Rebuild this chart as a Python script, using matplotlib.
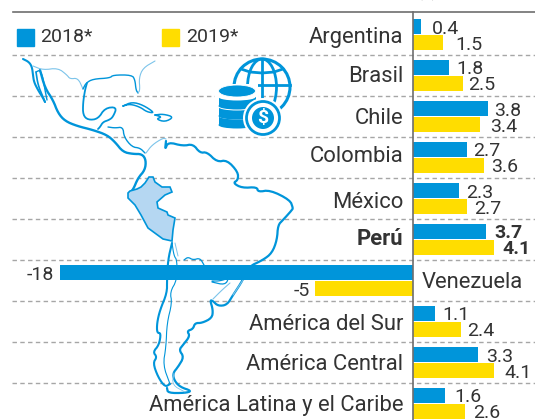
import matplotlib
matplotlib.use("Agg")
import matplotlib.pyplot as plt
import numpy as np
from matplotlib.patches import Circle, Ellipse, Polygon, Rectangle
from matplotlib.transforms import Affine2D

plt.rcParams['font.family'] = ['Roboto', 'DejaVu Sans']

# data
paises = ['Argentina', 'Brasil', 'Chile', 'Colombia', 'México', 'Perú', 'Venezuela',
          'América del Sur', 'América Central', 'América Latina y el Caribe']
v2018 = [0.4, 1.8, 3.8, 2.7, 2.3, 3.7, -18, 1.1, 3.3, 1.6]
v2019 = [1.5, 2.5, 3.4, 3.6, 2.7, 4.1, -5, 2.4, 4.1, 2.6]

# gap between bar end and value label, in px
pad2018 = [11, 7, 6, 7, 7, 8, 6, 7, 8, 9]
pad2019 = [12, 6, 10, 7, 8, 8, 5, 6, 10, 9]
# labels are not quite centred on their rows in the original, px up (+) or down (-)
nudge = [0, 1, 0, 3, -2, 3, 1, 0, 0, 0]

AZUL = '#0095DA'
AMARILLO = '#FFDD00'
CELESTE = '#B5D7F2'
TEXTO = '#333333'
W, H = 535, 420
X0 = 413.5
PX_UNIT = 19.65
ROW = 41.0
Y0 = 34.5
FS_LABEL = 15.8
FS_NUM = 14

fig = plt.figure(figsize=(W / 100, H / 100), dpi=100)
ax = fig.add_axes([0, 0, 1, 1])
ax.axis('off')
# pixel coordinates (origin top left), only for the map, icon and legend
px = Affine2D().scale(1, -1).translate(0, H)

y = np.arange(len(paises))
ax.barh(y - 8 / ROW, v2018, height=15 / ROW, color=AZUL, zorder=5)
ax.barh(y + 8 / ROW, v2019, height=15 / ROW, color=AMARILLO, zorder=5)
ax.set_xlim(-X0 / PX_UNIT, (W - X0) / PX_UNIT)
ax.set_ylim((H - Y0) / ROW, -Y0 / ROW)

# rules
for i in range(len(paises) - 1):
    ax.axhline(i + 0.5, xmin=12 / W, color='#A6A6A6', lw=1.0, dashes=(3.2, 2.4), zorder=1)
ax.plot([13, W], [12, 12], color='#6E6E6E', lw=1.2, transform=px, zorder=6)
ax.plot([413, 413], [12, H], color='#6E6E6E', lw=1.2, transform=px, zorder=6)

# labels
for i, p in enumerate(paises):
    peso = 'bold' if p == 'Perú' else 'normal'
    dy_txt = nudge[i] * 0.72
    if p == 'Venezuela':
        ax.annotate(p, (0, i), xytext=(6, dy_txt), textcoords='offset points', ha='left', va='center_baseline',
                    fontsize=FS_LABEL, color=TEXTO, zorder=7)
    else:
        ax.annotate(p, (0, i), xytext=(-7.5, dy_txt), textcoords='offset points', ha='right', va='center_baseline',
                    fontsize=FS_LABEL, color=TEXTO, fontweight=peso, zorder=7)
    for v, pad, dy in ((v2018[i], pad2018[i], -8), (v2019[i], pad2019[i], 8)):
        txt = ('%.1f' % v) if v > 0 else ('%d' % v)
        sg = 1 if v > 0 else -1
        ax.annotate(txt, (v, i + dy / ROW), xytext=(sg * pad * 0.72, 0), textcoords='offset points',
                    ha='left' if v > 0 else 'right', va='center_baseline', fontsize=FS_NUM, color=TEXTO,
                    fontweight=peso, zorder=7)

ax.text(427, -6.5, '(%)', transform=px, ha='center', va='center', fontsize=10, color=TEXTO)

# legend
ax.add_patch(Rectangle((17, 29), 17, 17, color=AZUL, transform=px))
ax.add_patch(Rectangle((162, 29), 17, 17, color=AMARILLO, transform=px))
ax.text(40, 37, '2018*', transform=px, va='center', fontsize=FS_NUM, color=TEXTO)
ax.text(186, 37, '2019*', transform=px, va='center', fontsize=FS_NUM, color=TEXTO)


def suave(puntos, n=2):
    # corner cutting, ends stay put
    p = np.array(puntos, dtype=float)
    for _ in range(n):
        q = np.empty((2 * len(p), 2))
        q[0::2] = 0.75 * p + 0.25 * np.roll(p, -1, axis=0)
        q[1::2] = 0.25 * p + 0.75 * np.roll(p, -1, axis=0)
        p = np.vstack([p[0], q[:-2], p[-1]])
    return p


def trazo(puntos, lw=1.2, color=AZUL):
    p = suave(puntos)
    ax.plot(p[:, 0], p[:, 1], color=color, lw=lw, transform=px, zorder=3,
            solid_capstyle='round', solid_joinstyle='round')


# map, traced by hand
claro = '#7CC4EA'
trazo([(23, 59), (29, 62), (32, 67), (33, 75), (34, 82), (38, 90), (43, 98), (45, 102)], 1.5)
trazo([(36, 72), (40, 70), (43, 78), (45, 90), (47, 100)], 1.0)
trazo([(36, 72), (38, 85), (43, 97), (45, 102)], 1.2)
trazo([(40, 70), (45, 88), (53, 100), (58, 113), (65, 121), (77, 126), (93, 130), (107, 135),
       (115, 142), (123, 152), (133, 154), (142, 154), (146, 160), (145, 170), (138, 178),
       (133, 190), (129, 193)], 1.7)
trazo([(33, 66), (43, 70), (58, 68), (67, 75), (70, 79), (78, 78), (83, 89)], 0.8, claro)
trazo([(83, 89), (86, 83), (93, 79), (110, 78), (113, 75), (132, 75), (135, 80), (136, 90), (138, 93)], 1.0)
trazo([(138, 93), (140, 90), (139, 78), (143, 68), (155, 61)], 0.8, claro)
trazo([(87, 83), (85, 90), (83, 103), (83, 115), (88, 120), (98, 119), (105, 108), (117, 107),
       (113, 117), (109, 120), (103, 122), (100, 127), (98, 129)], 1.3)
trazo([(108, 127), (115, 128), (123, 127), (124, 137), (132, 147), (140, 148), (145, 153)], 1.0)
trazo([(146, 153), (152, 145), (163, 138), (166, 139)], 0.8, claro)
trazo([(166, 141), (165, 150), (168, 142), (183, 146), (193, 144), (200, 153), (207, 152),
       (217, 162), (227, 160), (238, 172), (238, 180), (233, 183), (242, 188), (257, 187),
       (258, 192), (270, 190), (290, 200), (293, 208), (292, 210), (283, 220), (278, 225),
       (277, 240), (272, 253), (263, 260), (248, 267), (243, 280), (233, 295), (227, 305),
       (218, 306), (213, 301), (210, 300), (213, 310), (212, 318), (202, 323), (195, 323),
       (193, 329), (187, 331), (190, 336), (183, 345), (179, 350), (184, 357), (178, 367),
       (173, 373), (174, 380), (180, 387), (192, 391), (185, 393), (168, 393), (167, 388)], 1.6)
trazo([(172, 243), (168, 260), (167, 280), (167, 293), (160, 310), (157, 323), (157, 333),
       (161, 333), (159, 345), (153, 352), (157, 357), (153, 363), (158, 377), (165, 387), (170, 384)], 1.5)
trazo([(172, 243), (174, 256), (177, 260), (177, 280), (170, 292), (172, 303), (167, 323),
       (166, 347), (163, 365), (170, 384)], 0.8)
trazo([(175, 243), (178, 256)], 0.7, claro)
trazo([(184, 260), (188, 257), (193, 260), (200, 258), (204, 265)], 0.9)
trazo([(212, 281), (220, 281), (229, 278), (225, 285), (212, 282)], 0.9)
trazo([(230, 283), (222, 290), (213, 299)], 0.8, claro)
trazo([(243, 280), (233, 295)], 0.8, claro)
trazo([(174, 373), (172, 385), (185, 392)], 0.6, claro)

# islands
trazo([(123, 106), (132, 102), (143, 105), (155, 113), (147, 112), (140, 107), (130, 104), (123, 106)], 1.1)
trazo([(155, 115), (163, 114), (174, 117), (165, 122), (156, 119), (162, 117), (155, 115)], 1.1)

# Peru
peru = [(128, 193), (130, 191), (137, 189), (141, 187), (145, 183), (149, 177), (153, 177), (155, 182),
        (162, 187), (170, 187), (172, 192), (165, 195), (157, 202), (158, 208), (167, 212), (168, 215),
        (175, 218), (173, 230), (172, 241), (163, 239), (148, 228), (141, 215), (135, 205), (128, 198)]
ax.add_patch(Polygon(peru, closed=True, fc=CELESTE, ec=AZUL, lw=1.2, transform=px, zorder=4))

# icon
g = (262, 87)
ax.add_patch(Circle(g, 28, fc='none', ec=AZUL, lw=2.2, transform=px, zorder=3))
ax.add_patch(Ellipse(g, 29, 56, fc='none', ec=AZUL, lw=2.0, transform=px, zorder=3))
ax.plot([262, 262], [59, 115], color=AZUL, lw=2.0, transform=px, zorder=3)
ax.plot([234, 290], [85, 85], color=AZUL, lw=2.0, transform=px, zorder=3)
ax.plot([241, 250, 262, 274, 283], [69, 72, 73, 72, 69], color=AZUL, lw=2.0, transform=px, zorder=3)
ax.add_patch(Rectangle((215, 84), 43, 46, fc='white', ec='none', transform=px, zorder=3.1))
for k, yb in enumerate((116, 107, 97)):
    ax.add_patch(Ellipse((237, yb + 9), 37, 7, fc=AZUL, ec='none', transform=px, zorder=3.2 + k * 0.1))
    ax.add_patch(Rectangle((218.5, yb), 37, 9, fc=AZUL, ec='none', transform=px, zorder=3.2 + k * 0.1))
    ax.add_patch(Ellipse((237, yb), 37, 7, fc='white', ec='none', transform=px, zorder=3.25 + k * 0.1))
ax.add_patch(Ellipse((237, 91), 37, 12, fc=AZUL, ec='white', lw=0.6, transform=px, zorder=3.6))
ax.add_patch(Circle((263, 118), 20, fc='white', ec='none', transform=px, zorder=3.7))
ax.add_patch(Circle((263, 118), 16.5, fc='white', ec=AZUL, lw=2.0, transform=px, zorder=3.8))
ax.add_patch(Circle((263, 118), 11, fc=AZUL, ec='none', transform=px, zorder=3.9))
ax.text(263, 118, '$', transform=px, color='white', fontsize=14, fontweight='bold',
        ha='center', va='center', zorder=4)

fig.savefig('out.png', dpi=100)
